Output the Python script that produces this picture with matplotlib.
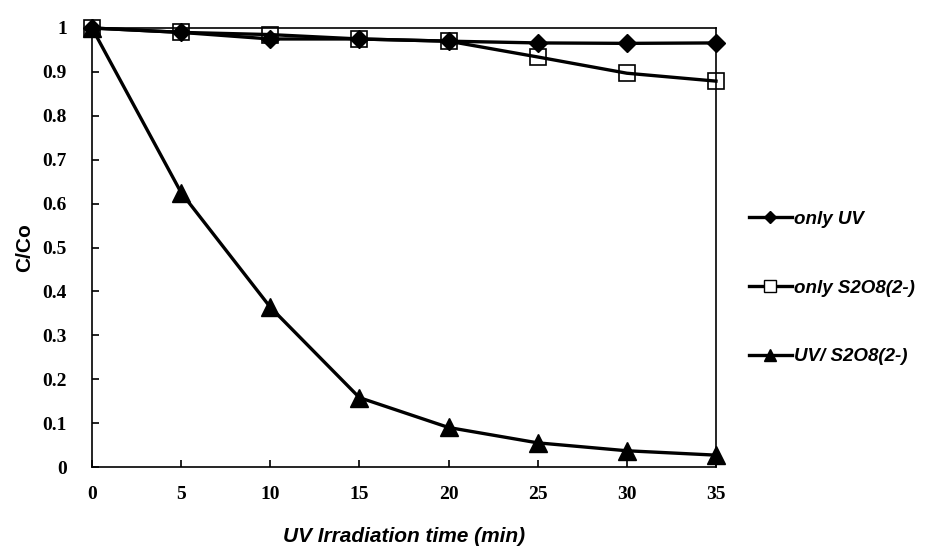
import matplotlib
matplotlib.use("Agg")
import matplotlib.pyplot as plt
from matplotlib.lines import Line2D

time_min = [0, 5, 10, 15, 20, 25, 30, 35]
only_uv = [1.0, 0.99, 0.975, 0.975, 0.97, 0.966, 0.965, 0.966]
only_s2o8 = [1.0, 0.99, 0.985, 0.975, 0.97, 0.934, 0.897, 0.879]
uv_s2o8 = [1.0, 0.625, 0.364, 0.158, 0.09, 0.055, 0.037, 0.027]

labels = ["only UV", "only S2O8(2-)", "UV/ S2O8(2-)"]
x_ticks = [0, 5, 10, 15, 20, 25, 30, 35]
y_ticks = [0, 0.1, 0.2, 0.3, 0.4, 0.5, 0.6, 0.7, 0.8, 0.9, 1]
y_tick_labels = ["0", "0.1", "0.2", "0.3", "0.4", "0.5", "0.6", "0.7", "0.8", "0.9", "1"]

fig = plt.figure(figsize=(9.29, 5.5), dpi=100)
ax = fig.add_axes([92 / 929, 1 - 467 / 550, (716 - 92) / 929, (467 - 28) / 550])

ax.plot(time_min, only_uv, color="black", lw=2.4, marker="D", ms=9,
        mfc="black", mec="black", clip_on=False, zorder=3)
ax.plot(time_min, only_s2o8, color="black", lw=2.4, marker="s", ms=12,
        mfc="none", mec="black", mew=1.2, clip_on=False, zorder=3)
ax.plot(time_min, uv_s2o8, color="black", lw=2.4, marker="^", ms=13,
        mfc="black", mec="black", clip_on=False, zorder=3)

ax.set_xlim(0, 35)
ax.set_ylim(0, 1)
ax.set_xticks(x_ticks)
ax.set_yticks(y_ticks)
ax.set_yticklabels(y_tick_labels)
for s in ax.spines.values():
    s.set_linewidth(1.2)
    s.set_color("black")
ax.tick_params(direction="in", length=5, width=1.2)
ax.tick_params(axis="x", pad=14)
ax.tick_params(axis="y", pad=18)
for t in ax.get_xticklabels() + ax.get_yticklabels():
    t.set_fontfamily("Liberation Serif")
    t.set_fontweight("bold")
    t.set_fontsize(14)

ax.set_xlabel("UV Irradiation time (min)", fontsize=15, fontweight="bold",
              fontstyle="italic", fontfamily="Liberation Sans", labelpad=17)
ax.set_ylabel("C/Co", fontsize=15, fontweight="bold",
              fontfamily="Liberation Sans", labelpad=6)

handles = [
    Line2D([], [], color="black", lw=2.4, marker="D", ms=6, mfc="black"),
    Line2D([], [], color="black", lw=2.4, marker="s", ms=8, mfc="white", mew=1),
    Line2D([], [], color="black", lw=2.4, marker="^", ms=9, mfc="black"),
]
leg = fig.legend(handles, labels, loc="center left",
                 bbox_to_anchor=(732 / 929, 1 - 288 / 550),
                 frameon=False, handlelength=2.3, handletextpad=0.1,
                 labelspacing=2.75,
                 prop={"family": "Liberation Sans", "weight": "bold",
                       "style": "italic", "size": 13.5})

fig.savefig("out.png", dpi=100)
